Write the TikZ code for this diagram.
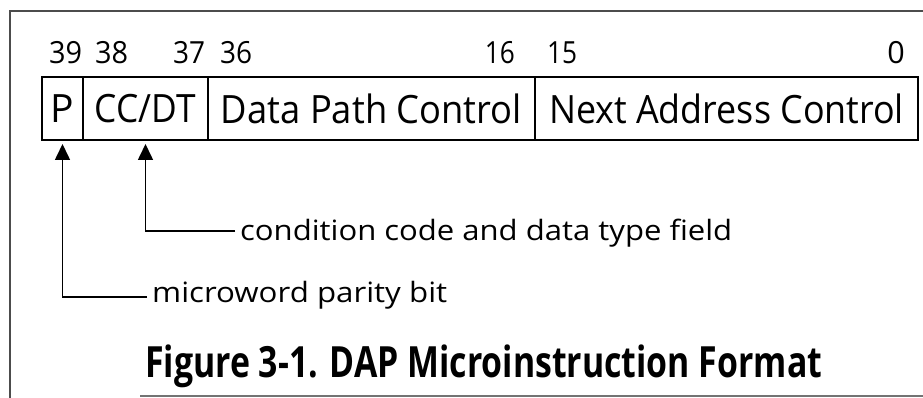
\documentclass[tikz,border=0pt]{standalone}
\usepackage{fontspec}
\usepackage{graphicx}
\setmainfont{Open Sans}
\usetikzlibrary{arrows.meta,calc}
\newcommand{\fitw}[2]{\resizebox{#1}{\height}{#2}}
\begin{document}
\begin{tikzpicture}[x=1pt,y=-1pt,
  field/.style={draw,line width=1.6pt,minimum height=63pt,inner sep=0pt,outer sep=0pt,font=\fontsize{39}{39}\selectfont,anchor=north west},
  bitnum/.style={inner sep=0pt,font=\fontsize{30.5}{30.5}\selectfont},
  note/.style={inner sep=0pt,anchor=base west,font=\fontsize{28}{28}\selectfont},
  conn/.style={line width=1.6pt,-{Triangle[length=16pt,width=15pt]}},
  frame/.style={line width=1.4pt,black!70}]
\useasboundingbox (0,0) rectangle (923,398);
% frame
\draw[frame] (923,11) -- (10,11) -- (10,398);
\draw[frame,black!55] (140,396) -- (923,396);
% bit numbers
\node[bitnum,anchor=base west] (b39) at (49,64) {\fitw{33pt}{39}};
\node[bitnum,anchor=base west] (b38) at (95,64) {\fitw{33pt}{38}};
\node[bitnum,anchor=base west] (b37) at (173,64) {\fitw{32pt}{37}};
\node[bitnum,anchor=base west] (b36) at (220,64) {\fitw{32pt}{36}};
\node[bitnum,anchor=base east] (b16) at (515,64) {\fitw{30pt}{16}};
\node[bitnum,anchor=base west] (b15) at (547,64) {\fitw{30pt}{15}};
\node[bitnum,anchor=base east] (b0) at (905,64) {0};
% fields
\node[field,minimum width=41pt] (fP) at (42,77) {P};
\node[field,minimum width=125pt] (fCC) at (83,77) {\fitw{101pt}{CC/DT}};
\node[field,minimum width=327pt] (fDP) at (208,77) {\fitw{301pt}{Data Path Control}};
\node[field,minimum width=383pt] (fNA) at (535,77) {\fitw{355pt}{Next Address Control}};
% notes
\node[note] (lcc) at (240,240) {\fitw{492pt}{condition code and data type field}};
\node[note] (lp) at (152,302) {\fitw{295pt}{microword parity bit}};
\draw[conn] ($(lcc.base west)+(-5,-9)$) -| ([yshift=-4pt]fCC.south);
\draw[conn] ($(lp.base west)+(-5,-5)$) -| ([yshift=-4pt]fP.south);
% caption
\node[inner sep=0pt,anchor=base west,font=\bfseries\fontsize{43}{43}\selectfont] (cap) at (145,377) {\fitw{677pt}{Figure 3-1. DAP Microinstruction Format}};
\end{tikzpicture}
\end{document}
